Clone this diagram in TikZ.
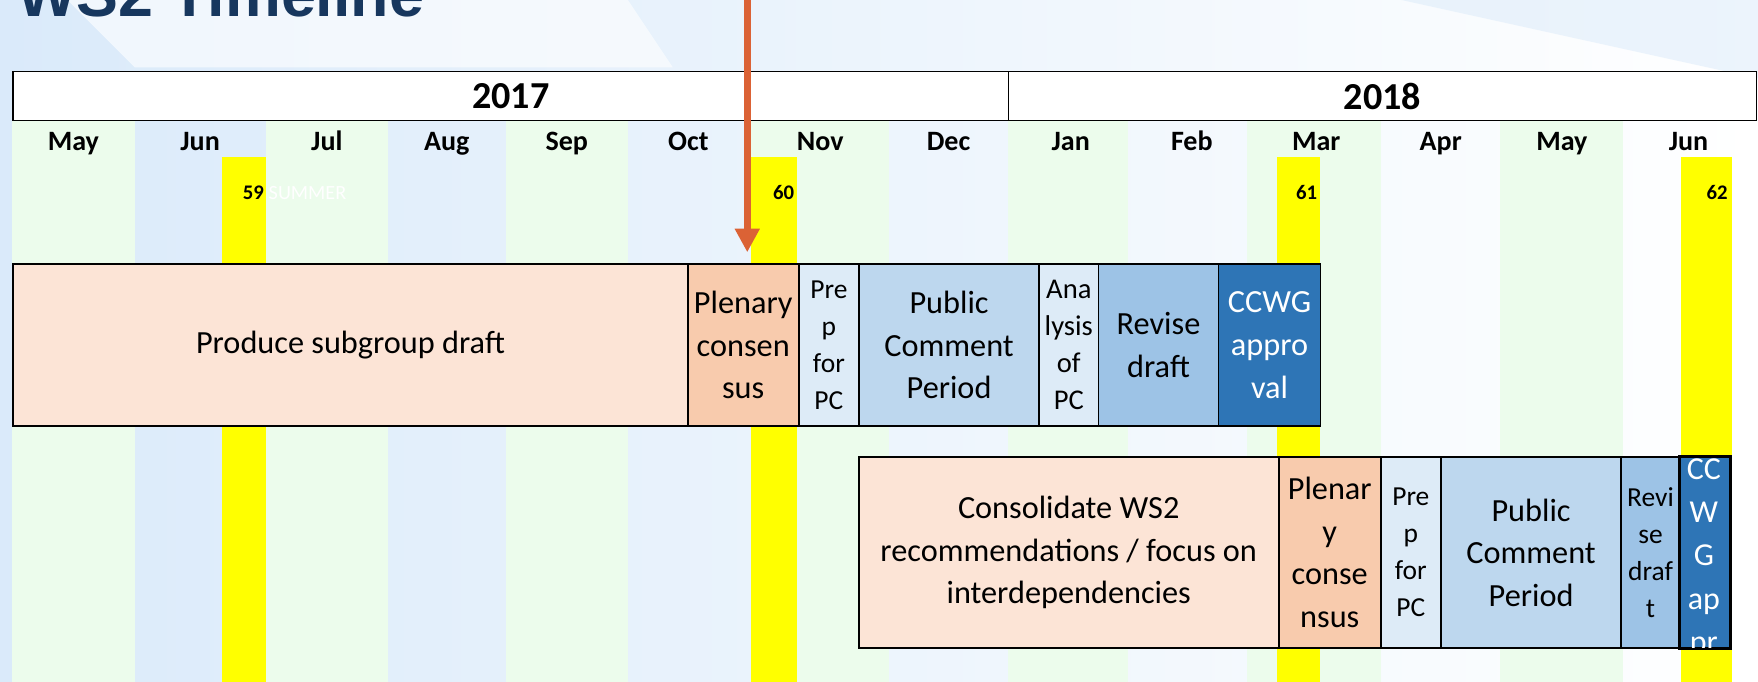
\documentclass[tikz,border=0pt]{standalone}
\usepackage{fontspec}
\setmainfont{Carlito}
\newfontfamily\titlefont{Liberation Sans}
\usetikzlibrary{arrows.meta}
\definecolor{peach}{HTML}{FCE4D6}
\definecolor{plen}{HTML}{F8CBAD}
\definecolor{prep}{HTML}{DDEBF7}
\definecolor{pubc}{HTML}{BDD7EE}
\definecolor{revi}{HTML}{9DC3E6}
\definecolor{ccwg}{HTML}{2E75B6}
\definecolor{stripe}{HTML}{ECFCEC}
\definecolor{navy}{HTML}{17375E}
\definecolor{arrowc}{HTML}{DB6235}
\definecolor{bgblue}{HTML}{DAEAFA}
\definecolor{yel}{HTML}{FFFF00}
\tikzset{
  task/.style={draw=black, line width=1.6pt, inner sep=0pt, align=center, anchor=north west, font=\fontsize{28.8}{38}\selectfont},
  smalltxt/.style={font=\fontsize{24.5}{33}\selectfont},
  anatxt/.style={font=\fontsize{25.5}{33}\selectfont},
  month/.style={font=\bfseries\fontsize{25}{30}\selectfont, inner sep=0pt, anchor=base},
  yearbox/.style={draw=black, line width=1.3pt, fill=white, inner sep=0pt, anchor=north west, minimum height=44pt, font=\bfseries\fontsize{34}{40}\selectfont},
  mtg/.style={font=\bfseries\fontsize{18.5}{20}\selectfont, anchor=east, inner sep=0pt},
  bar/.style={fill=yel},
  stripebox/.style={fill=stripe},
  arr/.style={draw=arrowc, line width=6.5pt, -{Triangle[width=21pt,length=21pt]}}
}
\begin{document}
\begin{tikzpicture}[x=1pt,y=-1pt]
\useasboundingbox (0,0) rectangle (1568,608);
\clip (0,0) rectangle (1568,608);
% background
\shade[left color=bgblue, right color=white] (0,0) rectangle (1568,608);
\fill[white, opacity=0.6] (60,0) -- (560,0) -- (600,60) -- (120,60) -- cycle;
\fill[bgblue, opacity=0.5] (1250,0) -- (1568,0) -- (1568,70) -- cycle;
\fill[bgblue, opacity=0.4] (0,0) -- (14,0) -- (14,608) -- (0,608) -- cycle;
% green stripes
\fill[stripebox] (11,107) rectangle (120,608);
\fill[stripebox] (237,107) rectangle (346,608);
\fill[stripebox] (451,107) rectangle (560,608);
\fill[stripebox] (670,107) rectangle (793,608);
\fill[stripebox] (899,107) rectangle (1006,608);
\fill[stripebox] (1112,107) rectangle (1232,608);
\fill[stripebox] (1338,107) rectangle (1448,608);
% yellow meeting bars
\fill[bar] (198,140) rectangle (237,608);
\fill[bar] (669.5,140) rectangle (710.5,608);
\fill[bar] (1139,140) rectangle (1177,608);
\fill[bar] (1499,140) rectangle (1545,608);
\node[mtg] (m59) at (235.5,172) {59};
\node[anchor=west, inner sep=0pt, text=white, font=\fontsize{18}{20}\selectfont] (summer) at (239.5,172) {SUMMER};
\node[mtg] (m60) at (708.5,172) {60};
\node[mtg] (m61) at (1175,172) {61};
\node[mtg] (m62) at (1541,172) {62};
% year header
\node[yearbox, minimum width=888pt] (y17) at (11,63) {2017};
\node[yearbox, minimum width=667pt] (y18) at (899,63) {2018};
% months
\node[month] (mo1) at (65.5,134) {May};
\node[month] (mo2) at (178.5,134) {Jun};
\node[month] (mo3) at (291.5,134) {Jul};
\node[month] (mo4) at (398.5,134) {Aug};
\node[month] (mo5) at (505.5,134) {Sep};
\node[month] (mo6) at (614,134) {Oct};
\node[month] (mo7) at (731.5,134) {Nov};
\node[month] (mo8) at (846,134) {Dec};
\node[month] (mo9) at (955,134) {Jan};
\node[month] (mo10) at (1063,134) {Feb};
\node[month] (mo11) at (1174,134) {Mar};
\node[month] (mo12) at (1285,134) {Apr};
\node[month] (mo13) at (1393,134) {May};
\node[month] (mo14) at (1506,134) {Jun};
% top row
\node[task, fill=peach, minimum width=601.6pt, minimum height=144pt] (t1) at (11,235) {Produce subgroup draft};
\node[task, fill=plen, minimum width=99pt, minimum height=144pt] (t2) at (612.6,235) {Plenary\\consen\\sus};
\node[task, smalltxt, fill=prep, minimum width=53.8pt, minimum height=144pt] (t3) at (711.6,235) {Pre\\p\\for\\PC};
\node[task, fill=pubc, minimum width=160.6pt, minimum height=144pt] (t4) at (765.4,235) {Public\\Comment\\Period};
\node[task, anatxt, fill=prep, minimum width=53pt, minimum height=144pt] (t5) at (926,235) {Ana\\lysis\\of\\PC};
\node[task, fill=revi, minimum width=107pt, minimum height=144pt] (t6) at (979,235) {Revise\\draft};
\node[task, fill=ccwg, text=white, minimum width=91pt, minimum height=144pt] (t7) at (1086,235) {CCWG\\appro\\val};
% bottom row
\node[task, fill=peach, minimum width=374.8pt, minimum height=170pt] (b1) at (765,407) {Consolidate WS2\\recommendations / focus on\\interdependencies};
\node[task, fill=plen, minimum width=90.9pt, minimum height=170pt] (b2) at (1139.8,407) {Plenar\\y\\conse\\nsus};
\node[task, smalltxt, fill=prep, minimum width=53.7pt, minimum height=170pt] (b3) at (1230.7,407) {Pre\\p\\for\\PC};
\node[task, fill=pubc, minimum width=160.8pt, minimum height=170pt] (b4) at (1284.4,407) {Public\\Comment\\Period};
\node[task, smalltxt, fill=revi, minimum width=52.3pt, minimum height=170pt] (b5) at (1445.2,407) {Revi\\se\\draf\\t};
\node[task, fill=ccwg, minimum width=44.5pt, minimum height=170pt] (b6) at (1497.5,407) {};
\begin{scope}
\clip (b6.north west) rectangle (b6.south east);
\node[anchor=north, inner sep=0pt, align=center, text=white, font=\fontsize{28.5}{38.5}\selectfont] (b6txt) at (1519.75,409) {CC\\W\\G\\ap\\pr\\ov\\al};
\end{scope}
\draw[line width=1.6pt] (b6.north west) rectangle (b6.south east);
% arrow
\coordinate (arrtop) at (666.5,-5);
\coordinate (arrtip) at (666.5,225);
\draw[arr] (arrtop) -- (arrtip);
% title
\node[anchor=base west, inner sep=0pt, text=navy, font=\titlefont\bfseries\fontsize{56}{60}\selectfont] (title) at (15,15) {WS2 Timeline};
\end{tikzpicture}
\end{document}
